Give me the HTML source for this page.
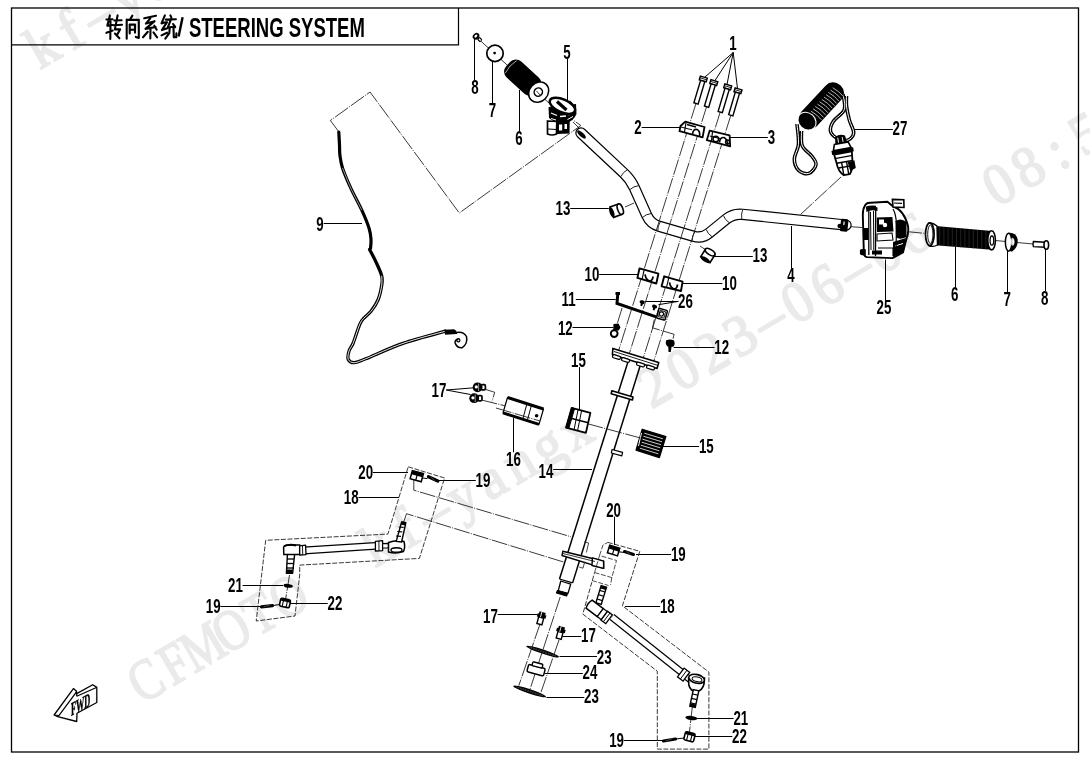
<!DOCTYPE html>
<html><head><meta charset="utf-8"><style>
html,body{margin:0;padding:0;background:#fff;}
svg{display:block;font-family:"Liberation Sans",sans-serif;filter:grayscale(1);}
</style></head><body>
<svg width="1090" height="760" viewBox="0 0 1090 760">
<rect width="1090" height="760" fill="#fff"/>
<g fill="#eaeaea" stroke="#eaeaea" stroke-width="1.9" font-family="Liberation Serif" font-size="58"><g transform="translate(169.2,688.3) rotate(-30.3)"><text transform="translate(-16.0,0) scale(0.8,1)" text-anchor="middle">C</text><text transform="translate(17.0,0) scale(0.8,1)" text-anchor="middle">F</text><text transform="translate(50.0,0) scale(0.8,1)" text-anchor="middle">M</text><text transform="translate(83.0,0) scale(0.8,1)" text-anchor="middle">O</text><text transform="translate(116.0,0) scale(0.8,1)" text-anchor="middle">T</text><text transform="translate(149.0,0) scale(0.8,1)" text-anchor="middle">O</text><text transform="translate(252.0,0) scale(0.95,1)" text-anchor="middle">k</text><text transform="translate(284.8,0) scale(0.95,1)" text-anchor="middle">f</text><text transform="translate(317.6,0) scale(0.52,1)" text-anchor="middle">—</text><text transform="translate(350.4,0) scale(0.95,1)" text-anchor="middle">y</text><text transform="translate(383.2,0) scale(0.95,1)" text-anchor="middle">a</text><text transform="translate(416.0,0) scale(0.95,1)" text-anchor="middle">n</text><text transform="translate(448.8,0) scale(0.95,1)" text-anchor="middle">g</text><text transform="translate(481.6,0) scale(0.95,1)" text-anchor="middle">x</text><text transform="translate(571.0,2.5) scale(0.95,1)" text-anchor="middle">2</text><text transform="translate(604.4,2.5) scale(0.95,1)" text-anchor="middle">0</text><text transform="translate(637.7,2.5) scale(0.95,1)" text-anchor="middle">2</text><text transform="translate(671.0,2.5) scale(0.95,1)" text-anchor="middle">3</text><text transform="translate(704.4,2.5) scale(0.52,1)" text-anchor="middle">—</text><text transform="translate(737.8,2.5) scale(0.95,1)" text-anchor="middle">0</text><text transform="translate(771.1,2.5) scale(0.95,1)" text-anchor="middle">6</text><text transform="translate(804.5,2.5) scale(0.52,1)" text-anchor="middle">—</text><text transform="translate(837.8,2.5) scale(0.95,1)" text-anchor="middle">0</text><text transform="translate(871.2,2.5) scale(0.95,1)" text-anchor="middle">6</text><text transform="translate(971.2,2.5) scale(0.95,1)" text-anchor="middle">0</text><text transform="translate(1004.5,2.5) scale(0.95,1)" text-anchor="middle">8</text><text transform="translate(1037.9,2.5) scale(0.95,1)" text-anchor="middle">:</text><text transform="translate(1071.2,2.5) scale(0.95,1)" text-anchor="middle">5</text><text transform="translate(1104.6,2.5) scale(0.95,1)" text-anchor="middle">5</text><text transform="translate(1138.0,2.5) scale(0.95,1)" text-anchor="middle">:</text><text transform="translate(1171.3,2.5) scale(0.95,1)" text-anchor="middle">2</text><text transform="translate(1204.7,2.5) scale(0.95,1)" text-anchor="middle">1</text></g><g transform="translate(-166,190) rotate(-30.3)"><text transform="translate(-16.0,0) scale(0.8,1)" text-anchor="middle">C</text><text transform="translate(17.0,0) scale(0.8,1)" text-anchor="middle">F</text><text transform="translate(50.0,0) scale(0.8,1)" text-anchor="middle">M</text><text transform="translate(83.0,0) scale(0.8,1)" text-anchor="middle">O</text><text transform="translate(116.0,0) scale(0.8,1)" text-anchor="middle">T</text><text transform="translate(149.0,0) scale(0.8,1)" text-anchor="middle">O</text><text transform="translate(252.0,0) scale(0.95,1)" text-anchor="middle">k</text><text transform="translate(284.8,0) scale(0.95,1)" text-anchor="middle">f</text><text transform="translate(317.6,0) scale(0.52,1)" text-anchor="middle">—</text><text transform="translate(350.4,0) scale(0.95,1)" text-anchor="middle">y</text><text transform="translate(383.2,0) scale(0.95,1)" text-anchor="middle">a</text><text transform="translate(416.0,0) scale(0.95,1)" text-anchor="middle">n</text><text transform="translate(448.8,0) scale(0.95,1)" text-anchor="middle">g</text><text transform="translate(481.6,0) scale(0.95,1)" text-anchor="middle">x</text><text transform="translate(571.0,2.5) scale(0.95,1)" text-anchor="middle">2</text><text transform="translate(604.4,2.5) scale(0.95,1)" text-anchor="middle">0</text><text transform="translate(637.7,2.5) scale(0.95,1)" text-anchor="middle">2</text><text transform="translate(671.0,2.5) scale(0.95,1)" text-anchor="middle">3</text><text transform="translate(704.4,2.5) scale(0.52,1)" text-anchor="middle">—</text><text transform="translate(737.8,2.5) scale(0.95,1)" text-anchor="middle">0</text><text transform="translate(771.1,2.5) scale(0.95,1)" text-anchor="middle">6</text><text transform="translate(804.5,2.5) scale(0.52,1)" text-anchor="middle">—</text><text transform="translate(837.8,2.5) scale(0.95,1)" text-anchor="middle">0</text><text transform="translate(871.2,2.5) scale(0.95,1)" text-anchor="middle">6</text><text transform="translate(971.2,2.5) scale(0.95,1)" text-anchor="middle">0</text><text transform="translate(1004.5,2.5) scale(0.95,1)" text-anchor="middle">8</text><text transform="translate(1037.9,2.5) scale(0.95,1)" text-anchor="middle">:</text><text transform="translate(1071.2,2.5) scale(0.95,1)" text-anchor="middle">5</text><text transform="translate(1104.6,2.5) scale(0.95,1)" text-anchor="middle">5</text><text transform="translate(1138.0,2.5) scale(0.95,1)" text-anchor="middle">:</text><text transform="translate(1171.3,2.5) scale(0.95,1)" text-anchor="middle">2</text><text transform="translate(1204.7,2.5) scale(0.95,1)" text-anchor="middle">1</text></g></g>
<rect x="11.5" y="8" width="1067" height="744" fill="none" stroke="#000" stroke-width="1.3"/>
<polyline points="11.5,44.8 458.5,44.8 458.5,8" fill="none" stroke="#000" stroke-width="1.2"/>
<text transform="translate(733.0,49.9) scale(0.69,1)" text-anchor="middle" font-size="19.3" font-weight="bold">1</text>
<text transform="translate(638.0,133.9) scale(0.69,1)" text-anchor="middle" font-size="19.3" font-weight="bold">2</text>
<text transform="translate(771.5,143.9) scale(0.69,1)" text-anchor="middle" font-size="19.3" font-weight="bold">3</text>
<text transform="translate(791.0,281.9) scale(0.69,1)" text-anchor="middle" font-size="19.3" font-weight="bold">4</text>
<text transform="translate(567.0,58.9) scale(0.69,1)" text-anchor="middle" font-size="19.3" font-weight="bold">5</text>
<text transform="translate(519.0,144.9) scale(0.69,1)" text-anchor="middle" font-size="19.3" font-weight="bold">6</text>
<text transform="translate(492.5,116.9) scale(0.69,1)" text-anchor="middle" font-size="19.3" font-weight="bold">7</text>
<text transform="translate(475.0,93.9) scale(0.69,1)" text-anchor="middle" font-size="19.3" font-weight="bold">8</text>
<text transform="translate(320.0,230.9) scale(0.69,1)" text-anchor="middle" font-size="19.3" font-weight="bold">9</text>
<text transform="translate(592.0,280.9) scale(0.69,1)" text-anchor="middle" font-size="19.3" font-weight="bold">10</text>
<text transform="translate(729.5,289.9) scale(0.69,1)" text-anchor="middle" font-size="19.3" font-weight="bold">10</text>
<text transform="translate(568.6,306.3) scale(0.69,1)" text-anchor="middle" font-size="19.3" font-weight="bold">11</text>
<text transform="translate(565.3,334.9) scale(0.69,1)" text-anchor="middle" font-size="19.3" font-weight="bold">12</text>
<text transform="translate(721.7,353.6) scale(0.69,1)" text-anchor="middle" font-size="19.3" font-weight="bold">12</text>
<text transform="translate(563.0,215.3) scale(0.69,1)" text-anchor="middle" font-size="19.3" font-weight="bold">13</text>
<text transform="translate(760.0,262.2) scale(0.69,1)" text-anchor="middle" font-size="19.3" font-weight="bold">13</text>
<text transform="translate(546.0,477.5) scale(0.69,1)" text-anchor="middle" font-size="19.3" font-weight="bold">14</text>
<text transform="translate(578.5,367.4) scale(0.69,1)" text-anchor="middle" font-size="19.3" font-weight="bold">15</text>
<text transform="translate(706.3,452.6) scale(0.69,1)" text-anchor="middle" font-size="19.3" font-weight="bold">15</text>
<text transform="translate(513.4,465.8) scale(0.69,1)" text-anchor="middle" font-size="19.3" font-weight="bold">16</text>
<text transform="translate(439.0,396.9) scale(0.69,1)" text-anchor="middle" font-size="19.3" font-weight="bold">17</text>
<text transform="translate(490.5,622.6) scale(0.69,1)" text-anchor="middle" font-size="19.3" font-weight="bold">17</text>
<text transform="translate(588.4,641.6) scale(0.69,1)" text-anchor="middle" font-size="19.3" font-weight="bold">17</text>
<text transform="translate(351.2,503.9) scale(0.69,1)" text-anchor="middle" font-size="19.3" font-weight="bold">18</text>
<text transform="translate(667.3,613.2) scale(0.69,1)" text-anchor="middle" font-size="19.3" font-weight="bold">18</text>
<text transform="translate(483.0,487.1) scale(0.69,1)" text-anchor="middle" font-size="19.3" font-weight="bold">19</text>
<text transform="translate(213.2,612.8) scale(0.69,1)" text-anchor="middle" font-size="19.3" font-weight="bold">19</text>
<text transform="translate(678.3,561.1) scale(0.69,1)" text-anchor="middle" font-size="19.3" font-weight="bold">19</text>
<text transform="translate(616.6,746.9) scale(0.69,1)" text-anchor="middle" font-size="19.3" font-weight="bold">19</text>
<text transform="translate(365.7,478.8) scale(0.69,1)" text-anchor="middle" font-size="19.3" font-weight="bold">20</text>
<text transform="translate(613.6,516.9) scale(0.69,1)" text-anchor="middle" font-size="19.3" font-weight="bold">20</text>
<text transform="translate(235.4,591.6) scale(0.69,1)" text-anchor="middle" font-size="19.3" font-weight="bold">21</text>
<text transform="translate(740.8,724.8) scale(0.69,1)" text-anchor="middle" font-size="19.3" font-weight="bold">21</text>
<text transform="translate(334.9,610.1) scale(0.69,1)" text-anchor="middle" font-size="19.3" font-weight="bold">22</text>
<text transform="translate(739.5,743.1) scale(0.69,1)" text-anchor="middle" font-size="19.3" font-weight="bold">22</text>
<text transform="translate(604.2,663.7) scale(0.69,1)" text-anchor="middle" font-size="19.3" font-weight="bold">23</text>
<text transform="translate(591.5,703.1) scale(0.69,1)" text-anchor="middle" font-size="19.3" font-weight="bold">23</text>
<text transform="translate(590.0,679.4) scale(0.69,1)" text-anchor="middle" font-size="19.3" font-weight="bold">24</text>
<text transform="translate(884.0,313.9) scale(0.69,1)" text-anchor="middle" font-size="19.3" font-weight="bold">25</text>
<text transform="translate(685.5,307.7) scale(0.69,1)" text-anchor="middle" font-size="19.3" font-weight="bold">26</text>
<text transform="translate(900.0,135.2) scale(0.69,1)" text-anchor="middle" font-size="19.3" font-weight="bold">27</text>
<text transform="translate(954.7,301.2) scale(0.69,1)" text-anchor="middle" font-size="19.3" font-weight="bold">6</text>
<text transform="translate(1007.3,306.3) scale(0.69,1)" text-anchor="middle" font-size="19.3" font-weight="bold">7</text>
<text transform="translate(1044.6,304.9) scale(0.69,1)" text-anchor="middle" font-size="19.3" font-weight="bold">8</text>
<line x1="733.2" y1="52.5" x2="705.0" y2="77.0" stroke="#000" stroke-width="1.0" />
<line x1="733.2" y1="52.5" x2="715.0" y2="80.5" stroke="#000" stroke-width="1.0" />
<line x1="733.2" y1="52.5" x2="727.0" y2="84.5" stroke="#000" stroke-width="1.0" />
<line x1="733.2" y1="52.5" x2="737.5" y2="88.5" stroke="#000" stroke-width="1.0" />
<line x1="641.7" y1="127.5" x2="682.0" y2="127.5" stroke="#000" stroke-width="1.0" />
<line x1="767.8" y1="137.5" x2="725.0" y2="137.5" stroke="#000" stroke-width="1.0" />
<line x1="791.5" y1="226.0" x2="791.5" y2="268.4" stroke="#000" stroke-width="1.0" />
<line x1="567.5" y1="58.6" x2="567.5" y2="101.0" stroke="#000" stroke-width="1.0" />
<line x1="519.5" y1="90.0" x2="519.5" y2="131.4" stroke="#000" stroke-width="1.0" />
<line x1="492.5" y1="61.0" x2="492.5" y2="103.4" stroke="#000" stroke-width="1.0" />
<line x1="474.5" y1="38.0" x2="474.5" y2="80.4" stroke="#000" stroke-width="1.0" />
<line x1="323.7" y1="223.5" x2="362.0" y2="223.5" stroke="#000" stroke-width="1.0" />
<line x1="599.2" y1="274.5" x2="638.0" y2="274.5" stroke="#000" stroke-width="1.0" />
<line x1="682.6" y1="283.5" x2="722.3" y2="283.5" stroke="#000" stroke-width="1.0" />
<line x1="575.8" y1="299.5" x2="615.7" y2="299.5" stroke="#000" stroke-width="1.0" />
<line x1="572.5" y1="327.5" x2="613.4" y2="327.5" stroke="#000" stroke-width="1.0" />
<line x1="673.7" y1="347.5" x2="714.5" y2="347.5" stroke="#000" stroke-width="1.0" />
<line x1="570.2" y1="208.5" x2="608.8" y2="208.5" stroke="#000" stroke-width="1.0" />
<line x1="714.0" y1="256.5" x2="752.8" y2="256.5" stroke="#000" stroke-width="1.0" />
<line x1="553.2" y1="469.5" x2="592.0" y2="469.5" stroke="#000" stroke-width="1.0" />
<line x1="579.5" y1="367.1" x2="579.5" y2="409.0" stroke="#000" stroke-width="1.0" />
<line x1="661.0" y1="446.5" x2="699.1" y2="446.5" stroke="#000" stroke-width="1.0" />
<line x1="513.5" y1="418.0" x2="513.5" y2="452.3" stroke="#000" stroke-width="1.0" />
<line x1="446.2" y1="390.0" x2="474.0" y2="387.8" stroke="#000" stroke-width="1.0" />
<line x1="446.2" y1="390.0" x2="470.5" y2="394.5" stroke="#000" stroke-width="1.0" />
<line x1="497.7" y1="614.5" x2="537.4" y2="614.5" stroke="#000" stroke-width="1.0" />
<line x1="562.3" y1="636.5" x2="581.2" y2="636.5" stroke="#000" stroke-width="1.0" />
<line x1="358.4" y1="497.5" x2="399.0" y2="497.5" stroke="#000" stroke-width="1.0" />
<line x1="625.0" y1="606.5" x2="660.1" y2="606.5" stroke="#000" stroke-width="1.0" />
<line x1="438.5" y1="480.5" x2="475.8" y2="480.5" stroke="#000" stroke-width="1.0" />
<line x1="220.4" y1="606.5" x2="262.0" y2="606.5" stroke="#000" stroke-width="1.0" />
<line x1="636.0" y1="554.5" x2="671.1" y2="554.5" stroke="#000" stroke-width="1.0" />
<line x1="623.8" y1="740.5" x2="666.0" y2="740.5" stroke="#000" stroke-width="1.0" />
<line x1="372.9" y1="472.5" x2="408.0" y2="472.5" stroke="#000" stroke-width="1.0" />
<line x1="614.5" y1="516.6" x2="614.5" y2="545.0" stroke="#000" stroke-width="1.0" />
<line x1="242.6" y1="585.5" x2="283.0" y2="585.5" stroke="#000" stroke-width="1.0" />
<line x1="697.0" y1="718.5" x2="733.6" y2="718.5" stroke="#000" stroke-width="1.0" />
<line x1="290.0" y1="603.5" x2="327.7" y2="603.5" stroke="#000" stroke-width="1.0" />
<line x1="695.0" y1="736.5" x2="732.3" y2="736.5" stroke="#000" stroke-width="1.0" />
<line x1="559.5" y1="656.5" x2="597.0" y2="656.5" stroke="#000" stroke-width="1.0" />
<line x1="546.4" y1="697.5" x2="584.3" y2="697.5" stroke="#000" stroke-width="1.0" />
<line x1="545.0" y1="673.5" x2="582.8" y2="673.5" stroke="#000" stroke-width="1.0" />
<line x1="885.5" y1="259.5" x2="885.5" y2="300.4" stroke="#000" stroke-width="1.0" />
<line x1="678.3" y1="301.5" x2="644.7" y2="301.5" stroke="#000" stroke-width="1.0" />
<line x1="678.3" y1="301.4" x2="658.4" y2="304.7" stroke="#000" stroke-width="1.0" />
<line x1="854.0" y1="129.5" x2="892.8" y2="129.5" stroke="#000" stroke-width="1.0" />
<line x1="955.5" y1="247.0" x2="955.5" y2="287.7" stroke="#000" stroke-width="1.0" />
<line x1="1007.5" y1="251.0" x2="1007.5" y2="292.8" stroke="#000" stroke-width="1.0" />
<line x1="1045.5" y1="248.0" x2="1045.5" y2="291.4" stroke="#000" stroke-width="1.0" />
<polyline points="338.7,131.6 330.4,120.5 370.0,92.0 459.3,213.0 580.8,125.5 571.6,119.0" stroke="#222" stroke-width="0.9" fill="none" stroke-dasharray="16 1.3 1 1.3"/>
<polyline points="478.0,38.5 490.0,49.5" stroke="#222" stroke-width="0.9" fill="none" stroke-dasharray="16 1.3 1 1.3"/>
<polyline points="500.0,58.5 512.0,69.5" stroke="#222" stroke-width="0.9" fill="none" stroke-dasharray="16 1.3 1 1.3"/>
<polyline points="541.0,96.0 549.0,103.0" stroke="#222" stroke-width="0.9" fill="none" stroke-dasharray="16 1.3 1 1.3"/>
<polyline points="573.0,122.0 582.0,131.0" stroke="#222" stroke-width="0.9" fill="none" stroke-dasharray="16 1.3 1 1.3"/>
<polyline points="848.0,226.5 862.0,227.5" stroke="#222" stroke-width="0.9" fill="none" stroke-dasharray="16 1.3 1 1.3"/>
<polyline points="906.0,231.5 926.0,233.5" stroke="#222" stroke-width="0.9" fill="none" stroke-dasharray="16 1.3 1 1.3"/>
<polyline points="995.0,240.5 1006.0,241.5" stroke="#222" stroke-width="0.9" fill="none" stroke-dasharray="16 1.3 1 1.3"/>
<polyline points="1017.0,242.5 1033.0,244.0" stroke="#222" stroke-width="0.9" fill="none" stroke-dasharray="16 1.3 1 1.3"/>
<polyline points="800.6,214.4 841.0,177.0" stroke="#222" stroke-width="0.9" fill="none" stroke-dasharray="16 1.3 1 1.3"/>
<polyline points="700.0,246.0 706.0,250.0" stroke="#222" stroke-width="0.9" fill="none" stroke-dasharray="16 1.3 1 1.3"/>
<polyline points="625.0,207.0 634.0,203.0" stroke="#222" stroke-width="0.9" fill="none" stroke-dasharray="16 1.3 1 1.3"/>
<path d="M581.0,133.0 L624.0,173.3 Q630.6,179.4 634.3,187.6 L646.8,215.5 Q650.5,223.7 659.1,226.2 L693.5,236.3 Q702.1,238.8 709.1,233.1 L726.3,219.1 Q733.3,213.4 742.3,214.3 L846.0,225.1" stroke="#000" stroke-width="11.4" fill="none" stroke-linecap="round" stroke-linejoin="round"/>
<path d="M581.0,133.0 L624.0,173.3 Q630.6,179.4 634.3,187.6 L646.8,215.5 Q650.5,223.7 659.1,226.2 L693.5,236.3 Q702.1,238.8 709.1,233.1 L726.3,219.1 Q733.3,213.4 742.3,214.3 L846.0,225.1" stroke="#fff" stroke-width="9.0" fill="none" stroke-linecap="round" stroke-linejoin="round"/>
<ellipse cx="581.5" cy="134.5" rx="2.2" ry="5.6" transform="rotate(-47 581.5 134.5)" fill="#000"/>
<rect x="840.5" y="219" width="7.5" height="12.6" rx="1.5" fill="#000" transform="rotate(6 844 225)"/>
<ellipse cx="840" cy="226" rx="2.6" ry="2.2" fill="#000"/>
<rect x="843.2" y="221.5" width="1.2" height="3.5" fill="#fff" transform="rotate(6 844 225)"/>
<path d="M0,-4.6 Q-1.6,0 0,4.6" transform="translate(624.1,173.2) rotate(43.4)" fill="none" stroke="#000" stroke-width="0.8"/>
<path d="M0,-4.6 Q-1.6,0 0,4.6" transform="translate(634.3,187.6) rotate(65.9)" fill="none" stroke="#000" stroke-width="0.8"/>
<path d="M0,-4.6 Q-1.6,0 0,4.6" transform="translate(646.8,215.5) rotate(65.9)" fill="none" stroke="#000" stroke-width="0.8"/>
<path d="M0,-4.6 Q-1.6,0 0,4.6" transform="translate(659.1,226.2) rotate(16.3)" fill="none" stroke="#000" stroke-width="0.8"/>
<path d="M0,-4.6 Q-1.6,0 0,4.6" transform="translate(693.5,236.3) rotate(16.3)" fill="none" stroke="#000" stroke-width="0.8"/>
<path d="M0,-4.6 Q-1.6,0 0,4.6" transform="translate(709.1,233.1) rotate(-39.2)" fill="none" stroke="#000" stroke-width="0.8"/>
<path d="M0,-4.6 Q-1.6,0 0,4.6" transform="translate(726.3,219.1) rotate(-39.2)" fill="none" stroke="#000" stroke-width="0.8"/>
<path d="M0,-4.6 Q-1.6,0 0,4.6" transform="translate(742.3,214.3) rotate(6)" fill="none" stroke="#000" stroke-width="0.8"/>
<polyline points="696.0,103.4 618.2,352.0" stroke="#222" stroke-width="0.9" fill="none" stroke-dasharray="16 1.3 1 1.3"/>
<polyline points="706.6,106.6 628.8,355.3" stroke="#222" stroke-width="0.9" fill="none" stroke-dasharray="16 1.3 1 1.3"/>
<polyline points="720.2,112.1 642.8,359.5" stroke="#222" stroke-width="0.9" fill="none" stroke-dasharray="16 1.3 1 1.3"/>
<polyline points="730.8,115.3 653.3,362.8" stroke="#222" stroke-width="0.9" fill="none" stroke-dasharray="16 1.3 1 1.3"/>
<line x1="628.7" y1="359.5" x2="559.5" y2="579.0" stroke="#000" stroke-width="1.5" />
<line x1="640.3" y1="365.3" x2="572.6" y2="582.9" stroke="#000" stroke-width="1.5" />
<line x1="559.5" y1="579.0" x2="572.6" y2="582.9" stroke="#000" stroke-width="1.3" />
<polygon points="560.8,581.0 570.7,584.2 568.0,593.4 558.2,590.8" stroke="#000" stroke-width="1.3" fill="#fff" stroke-linejoin="round" />
<polygon points="557.5,590.6 567.5,593.6 566.5,596.0 556.5,593.0" stroke="#000" stroke-width="1.3" fill="#000" stroke-linejoin="round" />
<polygon points="612.9,348.4 658.7,362.6 657.1,368.4 612.4,354.7" stroke="#000" stroke-width="1.6" fill="#fff" stroke-linejoin="round" />
<line x1="614.0" y1="351.5" x2="657.5" y2="365.3" stroke="#000" stroke-width="0.9" />
<rect x="613" y="355.5" width="8" height="3.2" rx="1.2" fill="#fff" stroke="#000" stroke-width="1.2" transform="rotate(17 617 355.5)"/>
<rect x="622" y="358.5" width="8" height="3.2" rx="1.2" fill="#fff" stroke="#000" stroke-width="1.2" transform="rotate(17 626 358.5)"/>
<rect x="637" y="363" width="8" height="3.2" rx="1.2" fill="#fff" stroke="#000" stroke-width="1.2" transform="rotate(17 641 363)"/>
<rect x="647" y="366" width="8" height="3.2" rx="1.2" fill="#fff" stroke="#000" stroke-width="1.2" transform="rotate(17 651 366)"/>
<polygon points="611.8,390.8 633.0,397.0 632.4,400.0 611.2,393.8" stroke="#000" stroke-width="1.6" fill="#fff" stroke-linejoin="round" />
<polygon points="612.0,449.5 622.6,452.4 621.8,455.8 611.4,453.0" stroke="#000" stroke-width="1.2" fill="#fff" stroke-linejoin="round" />
<rect x="604" y="446.5" width="4" height="3.5" fill="#fff" transform="rotate(-17 606 448)"/>
<polygon points="562.8,551.3 603.6,561.2 603.6,568.4 562.0,555.5" stroke="#000" stroke-width="1.4" fill="#fff" stroke-linejoin="round" />
<polygon points="592.4,557.9 603.6,561.2 603.6,568.4 592.0,565.5" stroke="#000" stroke-width="1.4" fill="#fff" stroke-linejoin="round" />
<line x1="563.0" y1="553.5" x2="595.0" y2="561.5" stroke="#000" stroke-width="0.8" />
<polyline points="584.0,541.8 588.6,543.0 586.4,552.5" stroke="#333" stroke-width="0.9" fill="none" />
<polyline points="579.2,567.0 583.0,568.2 584.8,561.5" stroke="#333" stroke-width="0.9" fill="none" />
<polyline points="408.2,466.8 444.6,478.0 419.4,558.4 299.7,565.1 299.7,575.0 295.0,616.0 256.2,621.0 265.7,540.3 387.9,534.1 408.2,466.8" stroke="#222" stroke-width="0.9" fill="none" stroke-dasharray="5 1.6"/>
<polyline points="413.8,477.0 413.8,490.2 571.0,536.8" stroke="#222" stroke-width="0.9" fill="none" stroke-dasharray="16 1.3 1 1.3"/>
<polyline points="403.7,522.0 406.5,513.7 563.5,562.0" stroke="#222" stroke-width="0.9" fill="none" stroke-dasharray="16 1.3 1 1.3"/>
<line x1="303.9" y1="550.5" x2="375.4" y2="545.9" stroke="#000" stroke-width="7.8" />
<line x1="303.9" y1="550.5" x2="375.4" y2="545.9" stroke="#fff" stroke-width="5.4" />
<path d="M283.6,547.5 Q284,545.2 288,545 L299.7,545 L299.7,554.5 L283.8,554.5 Z" fill="#fff" stroke="#000" stroke-width="1.5"/>
<path d="M284,546.2 Q290,543.5 296,545.5" fill="none" stroke="#000" stroke-width="2"/>
<polygon points="299.7,545.8 305.6,545.2 306.0,554.6 299.7,555.0" stroke="#000" stroke-width="1.3" fill="#fff" stroke-linejoin="round" />
<line x1="302.5" y1="545.5" x2="302.7" y2="554.8" stroke="#000" stroke-width="0.9" />
<polygon points="287.4,554.6 294.6,554.6 292.6,573.4 286.4,573.4" stroke="#000" stroke-width="1.4" fill="#fff" stroke-linejoin="round" />
<line x1="287.0" y1="559.0" x2="294.0" y2="559.0" stroke="#000" stroke-width="1.3" />
<line x1="287.0" y1="563.5" x2="294.0" y2="563.5" stroke="#000" stroke-width="1.3" />
<line x1="287.0" y1="568.0" x2="294.0" y2="568.0" stroke="#000" stroke-width="1.3" />
<rect x="286.3" y="569.5" width="6.2" height="4" fill="#000"/>
<polygon points="375.4,541.3 382.6,540.6 382.6,550.6 375.4,551.0" stroke="#000" stroke-width="1.3" fill="#fff" stroke-linejoin="round" />
<line x1="378.9" y1="541.0" x2="379.0" y2="550.8" stroke="#000" stroke-width="0.9" />
<polygon points="382.6,543.6 388.5,543.4 388.5,547.8 382.6,548.0" stroke="#000" stroke-width="1.2" fill="#fff" stroke-linejoin="round" />
<path d="M388.5,542.5 Q396,539.5 404,541.5 Q405.5,547 403.5,551.5 Q396,554 388.5,552 Z" fill="#fff" stroke="#000" stroke-width="1.5"/>
<ellipse cx="396.5" cy="550" rx="5.5" ry="2.2" fill="none" stroke="#000" stroke-width="1.4"/>
<polygon points="401.6,522.2 405.8,522.8 401.6,542.0 396.2,541.4" stroke="#000" stroke-width="1.4" fill="#fff" stroke-linejoin="round" />
<line x1="398.7" y1="527.0" x2="403.7" y2="527.4" stroke="#000" stroke-width="1.2" />
<line x1="397.3" y1="531.5" x2="402.3" y2="531.9" stroke="#000" stroke-width="1.2" />
<line x1="396.0" y1="536.0" x2="401.0" y2="536.4" stroke="#000" stroke-width="1.2" />
<rect x="401" y="521.5" width="5" height="3.5" fill="#000" transform="rotate(12 403 523)"/>
<polyline points="607.9,542.4 639.8,551.3 622.4,605.8 708.9,672.1 708.9,749.1 657.3,749.1 657.3,671.2 582.8,614.1 594.6,572.5" stroke="#222" stroke-width="0.9" fill="none" stroke-dasharray="5 1.6"/>
<polyline points="594.6,572.5 611.8,577.6 616.5,560.5 599.5,555.5 594.6,572.5" stroke="#222" stroke-width="0.8" fill="none" stroke-dasharray="5 1.6"/>
<polyline points="599.5,555.5 603.0,545.0 607.9,542.4" stroke="#222" stroke-width="0.8" fill="none" stroke-dasharray="5 1.6"/>
<polyline points="611.8,577.6 610.6,585.0" stroke="#222" stroke-width="0.8" fill="none" stroke-dasharray="5 1.6"/>
<polyline points="592.0,580.5 608.5,585.5" stroke="#222" stroke-width="0.8" fill="none" stroke-dasharray="5 1.6"/>
<polyline points="692.3,707.1 689.0,736.0" stroke="#222" stroke-width="0.9" fill="none" stroke-dasharray="16 1.3 1 1.3"/>
<line x1="612.0" y1="617.0" x2="681.8" y2="672.5" stroke="#000" stroke-width="7.4" />
<line x1="612.0" y1="617.0" x2="681.8" y2="672.5" stroke="#fff" stroke-width="5.0" />
<g transform="translate(601.2,595) rotate(17)"><rect x="-2.8" y="-9" width="5.6" height="18" fill="#fff" stroke="#000" stroke-width="1.4"/><line x1="-2.8" y1="-4" x2="2.8" y2="-4" stroke="#000" stroke-width="1.2"/><line x1="-2.8" y1="0.5" x2="2.8" y2="0.5" stroke="#000" stroke-width="1.2"/><line x1="-2.8" y1="5" x2="2.8" y2="5" stroke="#000" stroke-width="1.2"/><rect x="-2.8" y="-9" width="5.6" height="3" fill="#000"/></g>
<g transform="translate(595.5,609) rotate(37)"><path d="M-8,-5 L6,-5 L6,5 L-8,5 Q-10,0 -8,-5 Z" fill="#fff" stroke="#000" stroke-width="1.5"/><rect x="6" y="-5" width="5" height="10" fill="#fff" stroke="#000" stroke-width="1.2"/><rect x="11" y="-5.5" width="6" height="11" fill="#fff" stroke="#000" stroke-width="1.3"/><line x1="14" y1="-5.5" x2="14" y2="5.5" stroke="#000" stroke-width="0.9"/></g>
<g transform="translate(684,675) rotate(37)"><rect x="-4" y="-5.5" width="7" height="11" fill="#fff" stroke="#000" stroke-width="1.3"/><line x1="-0.5" y1="-5.5" x2="-0.5" y2="5.5" stroke="#000" stroke-width="0.9"/><rect x="3" y="-3" width="4" height="6" fill="#fff" stroke="#000" stroke-width="1.1"/></g>
<path d="M688.6,678 L688.8,685 Q690.5,691.5 696.5,691.8 Q702.5,690.5 704,684 L704.5,678 Z" fill="#fff" stroke="#000" stroke-width="1.6"/>
<ellipse cx="696.6" cy="678.8" rx="8" ry="4.3" transform="rotate(14 696.6 678.8)" fill="#fff" stroke="#000" stroke-width="1.6"/>
<ellipse cx="697" cy="679.3" rx="5" ry="2.3" transform="rotate(14 697 679.3)" fill="none" stroke="#000" stroke-width="1"/>
<g transform="translate(694.3,698.5) rotate(12)"><rect x="-2.8" y="-8.5" width="5.6" height="17" fill="#fff" stroke="#000" stroke-width="1.4"/><line x1="-2.8" y1="-4" x2="2.8" y2="-4" stroke="#000" stroke-width="1.2"/><line x1="-2.8" y1="0.5" x2="2.8" y2="0.5" stroke="#000" stroke-width="1.2"/><line x1="-2.8" y1="5" x2="2.8" y2="5" stroke="#000" stroke-width="1.2"/><rect x="-2.8" y="5.5" width="5.6" height="3" fill="#000"/></g>
<g transform="translate(416.8,476.2) rotate(15)"><rect x="-5.75" y="-4.25" width="11.5" height="8.5" fill="#fff" stroke="#000" stroke-width="1.5"/><rect x="-5.75" y="-4.25" width="11.5" height="3.825" fill="#000"/><line x1="0" y1="-4.25" x2="0" y2="4.25" stroke="#000" stroke-width="1.2"/></g>
<line x1="428.5" y1="476.8" x2="437.8" y2="481.0" stroke="#000" stroke-width="3.4" stroke-linecap="round"/>
<line x1="430.5" y1="477.0" x2="434.8" y2="480.6" stroke="#888" stroke-width="0.5" />
<line x1="422.5" y1="478.0" x2="427.5" y2="478.6" stroke="#000" stroke-width="1" />
<polyline points="289.5,575.0 285.5,600.0" stroke="#222" stroke-width="0.9" fill="none" stroke-dasharray="16 1.3 1 1.3"/>
<ellipse cx="288.2" cy="585.8" rx="4.8" ry="1.9" transform="rotate(8 288.2 585.8)" fill="#000"/>
<g transform="translate(285,603) rotate(12)"><rect x="-5.0" y="-4.0" width="10" height="8" rx="1.5" fill="#fff" stroke="#000" stroke-width="1.6"/><rect x="-5.0" y="-4.0" width="10" height="2.6" fill="#000"/><line x1="-2.0" y1="-4.0" x2="-2.0" y2="4.0" stroke="#000" stroke-width="1.1"/><line x1="2.0" y1="-4.0" x2="2.0" y2="4.0" stroke="#000" stroke-width="1.1"/></g>
<line x1="261.5" y1="606.8" x2="272.5" y2="605.6" stroke="#000" stroke-width="3.2" stroke-linecap="round"/>
<line x1="263.5" y1="607.0" x2="269.5" y2="605.2" stroke="#888" stroke-width="0.5" />
<line x1="272.5" y1="605.6" x2="280.0" y2="604.5" stroke="#000" stroke-width="1" />
<g transform="translate(613.6,550.5) rotate(17)"><rect x="-5.25" y="-4.0" width="10.5" height="8" fill="#fff" stroke="#000" stroke-width="1.5"/><rect x="-5.25" y="-4.0" width="10.5" height="3.6" fill="#000"/><line x1="0" y1="-4.0" x2="0" y2="4.0" stroke="#000" stroke-width="1.2"/></g>
<line x1="624.5" y1="551.5" x2="633.5" y2="554.5" stroke="#000" stroke-width="3.0" stroke-linecap="round"/>
<line x1="626.5" y1="551.7" x2="630.5" y2="554.1" stroke="#888" stroke-width="0.5" />
<line x1="618.8" y1="551.8" x2="624.5" y2="552.5" stroke="#000" stroke-width="1" />
<ellipse cx="691.3" cy="718" rx="6" ry="2.1" transform="rotate(8 691.3 718)" fill="#000"/>
<g transform="translate(689.5,736.8) rotate(14)"><rect x="-5.0" y="-4.25" width="10" height="8.5" rx="1.5" fill="#fff" stroke="#000" stroke-width="1.6"/><rect x="-5.0" y="-4.25" width="10" height="2.6" fill="#000"/><line x1="-2.0" y1="-4.25" x2="-2.0" y2="4.25" stroke="#000" stroke-width="1.1"/><line x1="2.0" y1="-4.25" x2="2.0" y2="4.25" stroke="#000" stroke-width="1.1"/></g>
<line x1="663.5" y1="741.0" x2="675.5" y2="739.0" stroke="#000" stroke-width="3.2" stroke-linecap="round"/>
<line x1="665.5" y1="741.2" x2="672.5" y2="738.6" stroke="#888" stroke-width="0.5" />
<line x1="675.5" y1="739.0" x2="684.5" y2="738.0" stroke="#000" stroke-width="1" />
<polyline points="540.0,624.0 518.8,685.6" stroke="#222" stroke-width="0.9" fill="none" stroke-dasharray="16 1.3 1 1.3"/>
<polyline points="560.2,597.0 529.9,689.7" stroke="#222" stroke-width="0.9" fill="none" stroke-dasharray="16 1.3 1 1.3"/>
<polyline points="559.0,640.0 540.9,692.5" stroke="#222" stroke-width="0.9" fill="none" stroke-dasharray="16 1.3 1 1.3"/>
<g transform="translate(541.2,617.5) rotate(15)"><rect x="-2.6" y="0" width="5.2" height="7" fill="#fff" stroke="#000" stroke-width="1.4"/><rect x="-4.5" y="-3.2" width="9" height="3.4" fill="#000"/><rect x="-3.2" y="-5.6" width="6.4" height="3" fill="#000"/><line x1="-0.8" y1="-5.5" x2="-0.8" y2="0" stroke="#fff" stroke-width="0.8"/></g>
<g transform="translate(560.5,632) rotate(15)"><rect x="-2.6" y="0" width="5.2" height="7" fill="#fff" stroke="#000" stroke-width="1.4"/><rect x="-4.5" y="-3.2" width="9" height="3.4" fill="#000"/><rect x="-3.2" y="-5.6" width="6.4" height="3" fill="#000"/><line x1="-0.8" y1="-5.5" x2="-0.8" y2="0" stroke="#fff" stroke-width="0.8"/></g>
<ellipse cx="542.6" cy="651.6" rx="17.3" ry="2.1" transform="rotate(18.5 542.6 651.6)" fill="#000"/>
<ellipse cx="542.6" cy="651.6" rx="14" ry="0.5" transform="rotate(18.5 542.6 651.6)" fill="none" stroke="#777" stroke-width="0.5" stroke-dasharray="1.5 1"/>
<ellipse cx="529.6" cy="691.4" rx="17.3" ry="2.2" transform="rotate(18.5 529.6 691.4)" fill="#000"/>
<ellipse cx="529.6" cy="691.4" rx="14" ry="0.5" transform="rotate(18.5 529.6 691.4)" fill="none" stroke="#777" stroke-width="0.5" stroke-dasharray="1.5 1"/>
<g transform="translate(536.4,669) rotate(15)"><rect x="-8.6" y="-2.6" width="17.2" height="7.6" rx="1.5" fill="#fff" stroke="#000" stroke-width="1.5"/><rect x="-5.2" y="-6.2" width="10.4" height="4" rx="1.2" fill="#fff" stroke="#000" stroke-width="1.4"/></g>
<path d="M338.8,132.0 C338.9,134.2 339.3,141.2 339.5,145.0 C339.7,148.8 339.4,151.2 339.9,155.0 C340.4,158.8 340.7,162.4 342.5,167.9 C344.3,173.4 347.6,181.1 350.8,188.1 C354.0,195.1 358.7,203.4 361.8,210.2 C364.9,217.0 367.7,223.8 369.2,228.7 C370.7,233.6 370.8,236.4 371.0,239.7 C371.2,243.0 370.6,247.0 370.5,248.5" stroke="#000" stroke-width="3.2" fill="none" stroke-linecap="round"/>
<path d="M369.6,249.5 C370.6,251.5 373.8,257.2 375.8,261.6 C377.8,266.0 380.7,271.9 381.7,275.8 C382.7,279.8 382.3,281.4 381.7,285.3 C381.1,289.2 380.0,295.2 378.2,299.5 C376.4,303.8 373.8,307.8 371.0,311.3 C368.2,314.9 364.0,317.2 361.6,320.8 C359.2,324.4 358.2,328.8 356.8,332.6 C355.4,336.4 354.3,340.4 353.0,343.5 C351.7,346.6 349.8,348.4 349.0,351.1 C348.2,353.8 347.4,357.6 348.3,359.5 C349.2,361.4 351.2,362.8 354.1,362.7 C357.0,362.6 357.6,362.0 365.7,358.8 C373.8,355.6 389.6,348.0 402.9,343.4 C416.2,338.8 438.2,333.2 445.3,331.2" stroke="#000" stroke-width="3.3" fill="none" stroke-linecap="round"/>
<path d="M381.7,275.8 C381.7,277.4 382.3,281.4 381.7,285.3 C381.1,289.2 380.0,295.2 378.2,299.5 C376.4,303.8 373.8,307.8 371.0,311.3 C368.2,314.9 364.0,317.2 361.6,320.8 C359.2,324.4 358.2,328.8 356.8,332.6 C355.4,336.4 354.3,340.4 353.0,343.5 C351.7,346.6 349.8,348.4 349.0,351.1 C348.2,353.8 347.4,357.6 348.3,359.5 C349.2,361.4 351.2,362.8 354.1,362.7 C357.0,362.6 357.6,362.0 365.7,358.8 C373.8,355.6 389.6,348.0 402.9,343.4 C416.2,338.8 438.2,333.2 445.3,331.2" stroke="#fff" stroke-width="0.9" fill="none" />
<path d="M342.5,167.9 C343.9,171.3 347.6,181.1 350.8,188.1 C354.0,195.1 360.0,206.5 361.8,210.2" stroke="#fff" stroke-width="0.6" fill="none" />
<path d="M444.5,329.8 L454,329.3 Q457.5,331.5 457,334 L445,334.8 Z" fill="#000"/>
<path d="M456.5,332.5 Q463.5,331 466.5,336.5 Q468,344 462,347.8 Q456.5,348 455,342.5 Q455,339 458.5,339.5" stroke="#000" stroke-width="1.5" fill="none" />
<circle cx="458.3" cy="340.2" r="1.6" fill="none" stroke="#000" stroke-width="1.2"/>
<g transform="translate(477.5,37.5) rotate(42)"><rect x="0.5" y="-1.9" width="4.8" height="3.8" rx="1.6" fill="#000"/><ellipse cx="-2" cy="0" rx="3" ry="3.6" fill="#000"/><ellipse cx="-2.2" cy="0" rx="1.2" ry="1.8" fill="#fff"/><rect x="2" y="-0.7" width="2.4" height="1.4" fill="#fff"/></g>
<circle cx="495" cy="53.4" r="8.2" fill="#fff" stroke="#000" stroke-width="1.7"/>
<circle cx="494.6" cy="53.1" r="1.4" fill="#000"/>
<g transform="translate(526.5,81) rotate(42.5)"><rect x="-25" y="-10.8" width="40" height="21.6" rx="8" fill="#000"/><path d="M-21,-8.5 Q-23.5,0 -21,8.5" fill="none" stroke="#fff" stroke-width="0.6"/><ellipse cx="16.5" cy="0" rx="10" ry="11.6" fill="#000"/><ellipse cx="16.5" cy="0" rx="8.5" ry="10.1" fill="#fff"/><ellipse cx="16.2" cy="0.2" rx="4.8" ry="5.0" fill="#000"/><ellipse cx="16.2" cy="0.2" rx="3.3" ry="3.5" fill="#fff"/></g>
<polyline points="536.5,91.0 541.0,96.0" stroke="#222" stroke-width="0.9" fill="none" stroke-dasharray="16 1.3 1 1.3"/>
<path d="M548.5,107 L549,118 Q556,124 565,123.5 Q573.5,121.5 576.5,114 L576,104 Z" fill="#000"/>
<path d="M547.5,121 L556.8,121.5 L556.5,134 Q552,136 547.5,134 Z" fill="#fff" stroke="#000" stroke-width="1.7"/>
<line x1="548.0" y1="129.0" x2="556.5" y2="129.5" stroke="#000" stroke-width="1.0" />
<path d="M556.8,118 L569.8,117 L569.5,133.5 L557,134 Z" fill="#000"/>
<rect x="559" y="124.5" width="3.2" height="6" fill="#fff"/><rect x="564.5" y="124" width="2.5" height="5" fill="#fff"/>
<path d="M551,113 L557,115.5 M560,116.5 L566,116 M568.5,115 L574,111" stroke="#fff" stroke-width="1.3" fill="none"/>
<path d="M551,118.5 L556,120 M567.5,119.5 L573,116.5" stroke="#fff" stroke-width="1" fill="none"/>
<ellipse cx="562.4" cy="105.8" rx="13.6" ry="6.4" transform="rotate(24 562.4 105.8)" fill="#fff" stroke="#000" stroke-width="2.4"/>
<path d="M557,101.5 L566.5,110" stroke="#000" stroke-width="3.2"/>
<path d="M569.5,101 L573,104.5" stroke="#000" stroke-width="1.4"/>
<g transform="translate(704,76.6) rotate(16.6)"><rect x="-3.6" y="0.5" width="7.2" height="4" fill="#fff" stroke="#000" stroke-width="1.4"/><rect x="-2.2" y="4.5" width="4.4" height="23.5" fill="#fff" stroke="#000" stroke-width="1.4"/><line x1="-3.6" y1="2.3" x2="3.6" y2="2.3" stroke="#000" stroke-width="0.8"/></g>
<g transform="translate(714.5,80.2) rotate(16.7)"><rect x="-3.6" y="0.5" width="7.2" height="4" fill="#fff" stroke="#000" stroke-width="1.4"/><rect x="-2.2" y="4.5" width="4.4" height="23.1" fill="#fff" stroke="#000" stroke-width="1.4"/><line x1="-3.6" y1="2.3" x2="3.6" y2="2.3" stroke="#000" stroke-width="0.8"/></g>
<g transform="translate(728.4,84.5) rotate(16.5)"><rect x="-3.6" y="0.5" width="7.2" height="4" fill="#fff" stroke="#000" stroke-width="1.4"/><rect x="-2.2" y="4.5" width="4.4" height="24.3" fill="#fff" stroke="#000" stroke-width="1.4"/><line x1="-3.6" y1="2.3" x2="3.6" y2="2.3" stroke="#000" stroke-width="0.8"/></g>
<g transform="translate(738.7,88.4) rotate(16.4)"><rect x="-3.6" y="0.5" width="7.2" height="4" fill="#fff" stroke="#000" stroke-width="1.4"/><rect x="-2.2" y="4.5" width="4.4" height="23.5" fill="#fff" stroke="#000" stroke-width="1.4"/><line x1="-3.6" y1="2.3" x2="3.6" y2="2.3" stroke="#000" stroke-width="0.8"/></g>
<polygon points="685.3,121.6 704.5,127.0 702.6,137.3 679.5,131.2 680.5,126.0" stroke="#000" stroke-width="1.8" fill="#fff" stroke-linejoin="round" />
<line x1="686.0" y1="122.5" x2="684.5" y2="132.0" stroke="#000" stroke-width="1.2" />
<line x1="681.0" y1="127.0" x2="692.0" y2="129.8" stroke="#000" stroke-width="1.0" />
<line x1="687.0" y1="124.5" x2="696.0" y2="127.0" stroke="#000" stroke-width="1.6" />
<path d="M692.5,134.5 Q693,128.5 697,129.5 Q700.5,131 699.5,136.5" stroke="#000" stroke-width="1.6" fill="none" />
<polygon points="709.7,130.6 729.6,135.4 730.2,146.3 706.8,140.2" stroke="#000" stroke-width="1.8" fill="#fff" stroke-linejoin="round" />
<circle cx="715.8" cy="139" r="2.8" fill="none" stroke="#000" stroke-width="1.5"/>
<line x1="709.8" y1="136.0" x2="720.0" y2="138.5" stroke="#000" stroke-width="1.2" />
<line x1="712.5" y1="131.5" x2="711.5" y2="141.0" stroke="#000" stroke-width="1.2" />
<path d="M719.5,142.5 Q720,137 724,137.5 Q727.5,139 727.5,145" stroke="#000" stroke-width="1.6" fill="none" />
<circle cx="727.5" cy="142" r="2" fill="none" stroke="#000" stroke-width="1.3"/>
<polygon points="639.5,268.4 658.4,273.7 656.3,283.5 637.4,277.9" stroke="#000" stroke-width="1.9" fill="#fff" stroke-linejoin="round" />
<line x1="644.2" y1="269.7" x2="642.1" y2="279.3" stroke="#000" stroke-width="1.1" />
<path d="M645.0,274.3 Q646.0,280.5 650.5,281.0 Q653.0,279.5 653.0,276.5" stroke="#000" stroke-width="1.7" fill="none" />
<polygon points="664.2,276.3 682.6,281.6 681.0,291.0 661.6,286.3" stroke="#000" stroke-width="1.9" fill="#fff" stroke-linejoin="round" />
<line x1="668.8" y1="277.6" x2="666.5" y2="287.5" stroke="#000" stroke-width="1.1" />
<path d="M669.5,282.3 Q670.5,288.5 675.0,289.0 Q677.5,287.5 677.5,284.5" stroke="#000" stroke-width="1.7" fill="none" />
<path d="M617.8,293.5 L617,303.4 L656.2,316.8" stroke="#000" stroke-width="3.0" fill="none" stroke-linejoin="miter" stroke-linecap="butt"/>
<rect x="615.5" y="292" width="4.5" height="3" fill="#000"/>
<g transform="translate(662,314.3) rotate(15)"><rect x="-4.4" y="-5" width="8.8" height="10" rx="1" fill="#fff" stroke="#000" stroke-width="1.5"/><rect x="-2.8" y="-3.4" width="5.6" height="6.6" fill="none" stroke="#000" stroke-width="0.8"/><circle cx="-0.6" cy="-0.2" r="2.1" fill="none" stroke="#000" stroke-width="1.2"/></g>
<polyline points="654.3,319.5 652.5,327.8 674.1,334.3 672.7,340.2" stroke="#222" stroke-width="0.9" fill="none" stroke-dasharray="16 1.3 1 1.3"/>
<polyline points="617.5,322.8 622.1,308.0" stroke="#222" stroke-width="0.9" fill="none" stroke-dasharray="16 1.3 1 1.3"/>
<g transform="translate(642.2,302.2) rotate(15)"><ellipse cx="0" cy="0" rx="2.6" ry="1.9" fill="#000"/><rect x="-1" y="0" width="2" height="3.8" fill="#000"/></g>
<g transform="translate(654.6,306.6) rotate(15)"><ellipse cx="0" cy="0" rx="2.6" ry="1.9" fill="#000"/><rect x="-1" y="0" width="2" height="3.8" fill="#000"/></g>
<path d="M613.5,324 L618.5,323.5 L620.5,327.5 L618.6,330.6 L613.2,330.6 Z" fill="#000"/>
<circle cx="614.2" cy="333.6" r="3.4" fill="none" stroke="#000" stroke-width="1.9"/>
<path d="M666,340.5 Q670,338.3 674,340.5 Q675.5,344 673.5,346.5 L671.5,347 L670.8,352 L668.5,352 L668.3,347 Q665,345 666,340.5 Z" fill="#000"/>
<g transform="translate(616.5,210.5) rotate(-20)"><path d="M-5,-5.5 L4,-5.5 L4,5.5 L-5,5.5 Z" fill="#fff" stroke="#000" stroke-width="1.6"/><ellipse cx="-5" cy="0" rx="2.2" ry="5.5" fill="#000"/><ellipse cx="4" cy="0" rx="2.6" ry="5.5" fill="#fff" stroke="#000" stroke-width="1.6"/></g>
<g transform="translate(708,255.5) rotate(-58)"><path d="M-5,-5.5 L4,-5.5 L4,5.5 L-5,5.5 Z" fill="#fff" stroke="#000" stroke-width="1.6"/><ellipse cx="-5" cy="0" rx="2.2" ry="5.5" fill="#000"/><ellipse cx="4" cy="0" rx="2.6" ry="5.5" fill="#fff" stroke="#000" stroke-width="1.6"/></g>
<polygon points="571.7,407.8 590.4,412.9 585.9,432.8 566.0,427.7" stroke="#000" stroke-width="1.8" fill="#fff" stroke-linejoin="round" />
<line x1="569.0" y1="417.8" x2="588.2" y2="422.8" stroke="#000" stroke-width="1.6" />
<line x1="578.0" y1="410.0" x2="574.0" y2="430.0" stroke="#000" stroke-width="1.0" />
<line x1="581.5" y1="411.0" x2="577.5" y2="431.0" stroke="#000" stroke-width="1.0" />
<polygon points="571.7,407.8 574.6,408.6 568.8,428.4 566.0,427.7" stroke="#000" stroke-width="1.0" fill="#000" stroke-linejoin="round" />
<polygon points="642.2,429.2 665.9,436.6 659.4,457.6 636.0,450.2" stroke="#000" stroke-width="1.2" fill="#000" stroke-linejoin="round" />
<line x1="644.3" y1="433.2" x2="663.0" y2="438.8" stroke="#fff" stroke-width="0.8" />
<line x1="643.4" y1="436.2" x2="662.0" y2="441.8" stroke="#fff" stroke-width="0.8" />
<line x1="642.5" y1="439.2" x2="661.1" y2="444.8" stroke="#fff" stroke-width="0.8" />
<line x1="641.7" y1="442.2" x2="660.2" y2="447.8" stroke="#fff" stroke-width="0.8" />
<line x1="640.8" y1="445.2" x2="659.3" y2="450.8" stroke="#fff" stroke-width="0.8" />
<line x1="639.9" y1="448.2" x2="658.3" y2="453.8" stroke="#fff" stroke-width="0.8" />
<line x1="641.5" y1="433.0" x2="638.5" y2="446.0" stroke="#fff" stroke-width="1.0" />
<polyline points="587.4,423.7 642.0,438.4" stroke="#222" stroke-width="0.9" fill="none" stroke-dasharray="16 1.3 1 1.3"/>
<polygon points="507.5,397.5 543.5,409.0 539.0,424.4 503.0,412.9" stroke="#000" stroke-width="1.2" fill="#fff" stroke-linejoin="round" />
<line x1="507.5" y1="397.5" x2="543.5" y2="409.0" stroke="#000" stroke-width="3.0" />
<line x1="503.0" y1="412.9" x2="539.0" y2="424.4" stroke="#000" stroke-width="3.0" />
<line x1="527.0" y1="403.5" x2="522.8" y2="419.0" stroke="#000" stroke-width="1.0" />
<line x1="531.5" y1="405.0" x2="527.3" y2="420.5" stroke="#000" stroke-width="1.0" />
<circle cx="536.6" cy="415.8" r="1.8" fill="#000"/>
<polyline points="496.0,408.0 540.0,421.0" stroke="#222" stroke-width="0.9" fill="none" stroke-dasharray="16 1.3 1 1.3"/>
<rect x="481.20000000000005" y="384.7" width="4.2" height="5.2" rx="1.2" fill="#fff" stroke="#000" stroke-width="1.7"/>
<circle cx="477.6" cy="387.3" r="4.9" fill="#000"/>
<circle cx="476.3" cy="386.90000000000003" r="1.6" fill="#fff"/>
<path d="M478.6,383.5 L478.6,391.1" stroke="#fff" stroke-width="0.6"/>
<rect x="477.8" y="395.59999999999997" width="4.2" height="5.2" rx="1.2" fill="#fff" stroke="#000" stroke-width="1.7"/>
<circle cx="474.2" cy="398.2" r="4.9" fill="#000"/>
<circle cx="472.9" cy="397.8" r="1.6" fill="#fff"/>
<path d="M475.2,394.4 L475.2,402.0" stroke="#fff" stroke-width="0.6"/>
<polyline points="484.4,389.0 494.7,392.3 492.1,401.3" stroke="#222" stroke-width="0.9" fill="none" stroke-dasharray="16 1.3 1 1.3"/>
<polyline points="481.5,400.0 505.0,405.8" stroke="#222" stroke-width="0.9" fill="none" stroke-dasharray="16 1.3 1 1.3"/>
<path d="M797.0,124.0 C797.2,127.4 799.0,138.7 798.5,144.5 C798.0,150.3 794.3,154.6 794.3,158.9 C794.3,163.2 796.3,168.1 798.7,170.5 C801.1,172.9 805.9,174.4 808.8,173.4 C811.7,172.4 815.5,167.6 816.0,164.7 C816.5,161.8 814.0,159.1 811.7,156.0 C809.4,152.9 804.0,150.1 802.3,145.9 C800.6,141.7 801.6,133.5 801.5,131.0" stroke="#000" stroke-width="3.6" fill="none" />
<path d="M797.0,124.0 C797.2,127.4 799.0,138.7 798.5,144.5 C798.0,150.3 794.3,154.6 794.3,158.9 C794.3,163.2 796.3,168.1 798.7,170.5 C801.1,172.9 805.9,174.4 808.8,173.4 C811.7,172.4 815.5,167.6 816.0,164.7 C816.5,161.8 814.0,159.1 811.7,156.0 C809.4,152.9 804.0,150.1 802.3,145.9 C800.6,141.7 801.6,133.5 801.5,131.0" stroke="#fff" stroke-width="1.0" fill="none" />
<path d="M843.0,94.0 C843.2,96.6 845.9,105.2 844.3,109.7 C842.7,114.2 835.7,117.7 833.4,121.3 C831.1,124.9 829.8,128.5 830.5,131.4 C831.2,134.3 834.9,137.2 837.8,138.7 C840.7,140.1 845.2,141.1 847.9,140.1 C850.5,139.1 853.5,136.3 853.7,132.9 C853.9,129.5 850.5,124.4 849.3,119.9 C848.1,115.4 847.0,110.0 846.5,106.0 C846.0,102.0 846.5,97.7 846.5,96.0" stroke="#000" stroke-width="3.6" fill="none" />
<path d="M843.0,94.0 C843.2,96.6 845.9,105.2 844.3,109.7 C842.7,114.2 835.7,117.7 833.4,121.3 C831.1,124.9 829.8,128.5 830.5,131.4 C831.2,134.3 834.9,137.2 837.8,138.7 C840.7,140.1 845.2,141.1 847.9,140.1 C850.5,139.1 853.5,136.3 853.7,132.9 C853.9,129.5 850.5,124.4 849.3,119.9 C848.1,115.4 847.0,110.0 846.5,106.0 C846.0,102.0 846.5,97.7 846.5,96.0" stroke="#fff" stroke-width="1.0" fill="none" />
<g transform="translate(821.3,105.8) rotate(-47)"><rect x="-28" y="-10.6" width="56" height="21.2" rx="10" fill="#000"/><ellipse cx="-21" cy="0" rx="8.2" ry="9.8" fill="#000" stroke="#fff" stroke-width="1.1"/><path d="M-11.0,-4 Q-9.2,3 -10.2,9.6" fill="none" stroke="#ddd" stroke-width="0.75"/><path d="M-7.8,-4 Q-6.0,3 -7.0,9.6" fill="none" stroke="#ddd" stroke-width="0.75"/><path d="M-4.6,-4 Q-2.8,3 -3.8,9.6" fill="none" stroke="#ddd" stroke-width="0.75"/><path d="M-1.4,-4 Q0.4,3 -0.6,9.6" fill="none" stroke="#ddd" stroke-width="0.75"/><path d="M1.8,-4 Q3.6,3 2.6,9.6" fill="none" stroke="#ddd" stroke-width="0.75"/><path d="M5.0,-4 Q6.8,3 5.8,9.6" fill="none" stroke="#ddd" stroke-width="0.75"/><path d="M8.2,-4 Q10.0,3 9.0,9.6" fill="none" stroke="#ddd" stroke-width="0.75"/><path d="M11.4,-4 Q13.2,3 12.2,9.6" fill="none" stroke="#ddd" stroke-width="0.75"/><path d="M14.6,-4 Q16.4,3 15.4,9.6" fill="none" stroke="#ddd" stroke-width="0.75"/><path d="M17.8,-4 Q19.6,3 18.6,9.6" fill="none" stroke="#ddd" stroke-width="0.75"/><path d="M21.0,-4 Q22.8,3 21.8,9.6" fill="none" stroke="#ddd" stroke-width="0.75"/></g>
<g transform="translate(843.5,156) rotate(-10)"><path d="M-5,-20 Q0,-23 5,-20 L6,-13 L-6,-13 Z" fill="#000"/><path d="M-2.5,-19 L-2.5,-14 M2,-19 L2,-14" stroke="#fff" stroke-width="0.9"/><path d="M-7,-13 L7,-13 L9,-7 L-9,-7 Z" fill="#fff" stroke="#000" stroke-width="1.6"/><path d="M-11,-7 L11,-7 L11,-3 L-11,-3 Z" fill="#000"/><path d="M-9,-3 L9,-3 L8,6 Q7,15 3,19 L-3,19 Q-8,14 -8,6 Z" fill="#fff" stroke="#000" stroke-width="1.8" stroke-linejoin="round"/><path d="M-9,1 L9,1" stroke="#000" stroke-width="1.2"/><path d="M-8,6 L8,6 M-7,11 L7,11" stroke="#000" stroke-width="1.4"/><path d="M-3,6 L-3,19 M2,6 L2,19" stroke="#000" stroke-width="1.4"/><path d="M3,7 L10,6 L10,14 L4,16 Z" fill="#000"/></g>
<path d="M864.8,206 Q866,202.5 870.7,202.8 L887.5,201.8 L892.5,206 Q904,210 908,226 Q909,233 906.3,239.4 L903,252.5 L892.4,258.1 L866.8,257.1 Q863.3,256 863.8,251.2 L862.8,214.7 Q862.8,209 864.8,206 Z" fill="#fff" stroke="#000" stroke-width="1.9" stroke-linejoin="round"/>
<path d="M892.4,199.4 L903.8,199.8 L904,207.5 L893,207 Z" fill="#fff" stroke="#000" stroke-width="1.6"/>
<line x1="894.0" y1="203.0" x2="902.0" y2="203.3" stroke="#000" stroke-width="1.2" />
<path d="M868.8,209 L868.8,255 M875.7,208 L875.5,256" stroke="#000" stroke-width="1.3" fill="none" />
<path d="M870.5,212 L871,250 M873.5,211 L873.8,250" stroke="#000" stroke-width="1.0" fill="none" />
<path d="M866,208 Q871,205 877.5,207.5 L877.5,211 Q871,209 866.5,212 Z" fill="#000"/>
<path d="M863.5,228 L868.5,228 L868.5,240 L863.8,240 Z" fill="#000"/>
<path d="M866,207.5 Q870,205.5 876,206.5" stroke="#000" stroke-width="1.5" fill="none" />
<path d="M876.7,217.6 L892.4,217 L893.5,231.5 L877,232 Z" fill="#000"/>
<circle cx="885" cy="225" r="2.2" fill="#fff"/>
<rect x="879" y="219.5" width="5" height="5" fill="#fff"/>
<path d="M895.5,221 Q901,217.5 906.5,222 L906.5,237 Q900,240 896,237.5 Z" fill="#000"/>
<path d="M893,242 L906,238 L903,252.5 L893,257 Z" fill="#000"/>
<path d="M895,246 L903,243.5" stroke="#fff" stroke-width="1"/>
<path d="M893,209 Q896,214 896.5,224 L896,252" stroke="#000" stroke-width="1.2" fill="none" />
<path d="M877,234 L892,233 L893,240 L877,241 Z" stroke="#000" stroke-width="1.1" fill="none" />
<path d="M893,245.5 L906,240.5" stroke="#000" stroke-width="1.1" fill="none" />
<path d="M878,248 L893,248 L893,256" stroke="#000" stroke-width="1.1" fill="none" />
<path d="M859.9,250 Q861,248.5 865.8,249.2 L865.8,255.2 Q861,256 859.9,254 Z" fill="#000"/>
<rect x="872" y="250.5" width="10" height="4" fill="#000"/>
<path d="M935.5,225.9 L992,231 L992,249.7 L935.5,245.2 Z" fill="#000"/>
<line x1="939.7" y1="226.7" x2="939.7" y2="245.9" stroke="#444" stroke-width="0.5" />
<line x1="943.9" y1="227.1" x2="943.9" y2="246.3" stroke="#444" stroke-width="0.5" />
<line x1="948.1" y1="227.4" x2="948.1" y2="246.6" stroke="#444" stroke-width="0.5" />
<line x1="952.3" y1="227.8" x2="952.3" y2="246.9" stroke="#444" stroke-width="0.5" />
<line x1="956.5" y1="228.2" x2="956.5" y2="247.2" stroke="#444" stroke-width="0.5" />
<line x1="960.7" y1="228.6" x2="960.7" y2="247.6" stroke="#444" stroke-width="0.5" />
<line x1="964.9" y1="229.0" x2="964.9" y2="247.9" stroke="#444" stroke-width="0.5" />
<line x1="969.1" y1="229.3" x2="969.1" y2="248.2" stroke="#444" stroke-width="0.5" />
<line x1="973.3" y1="229.7" x2="973.3" y2="248.6" stroke="#444" stroke-width="0.5" />
<line x1="977.5" y1="230.1" x2="977.5" y2="248.9" stroke="#444" stroke-width="0.5" />
<line x1="981.7" y1="230.5" x2="981.7" y2="249.2" stroke="#444" stroke-width="0.5" />
<line x1="985.9" y1="230.9" x2="985.9" y2="249.6" stroke="#444" stroke-width="0.5" />
<line x1="990.1" y1="231.2" x2="990.1" y2="249.9" stroke="#444" stroke-width="0.5" />
<ellipse cx="991.6" cy="240.3" rx="3.8" ry="9.6" fill="#fff" stroke="#000" stroke-width="1.6"/>
<ellipse cx="991.9" cy="240.6" rx="1.8" ry="4.6" fill="#fff" stroke="#000" stroke-width="1.3"/>
<path d="M929,223 Q933,222.5 937,226 L937.5,245 Q933,247.5 929,245.5 Z" fill="#fff" stroke="#000" stroke-width="1.4"/>
<ellipse cx="929.8" cy="234.2" rx="4.3" ry="11.4" fill="#fff" stroke="#000" stroke-width="1.7"/>
<ellipse cx="930.3" cy="234.3" rx="2.6" ry="9.2" fill="none" stroke="#000" stroke-width="0.9"/>
<path d="M1008.5,232.8 Q1015.5,232 1017.6,239 Q1018.5,247 1012.5,251.2 Q1008,252.5 1008,246 Z" fill="#000"/>
<ellipse cx="1008.6" cy="242.2" rx="3.2" ry="9" fill="#fff" stroke="#000" stroke-width="1.5"/>
<ellipse cx="1012.5" cy="241.8" rx="1.6" ry="4" fill="#fff" opacity="0.8"/>
<ellipse cx="1013.5" cy="242" rx="1" ry="3" fill="#fff"/>
<path d="M1033.4,241.5 L1044.7,242.2 L1044.7,247.3 L1033.4,246.6 Q1032.6,244 1033.4,241.5 Z" fill="#fff" stroke="#000" stroke-width="1.4"/>
<ellipse cx="1046.3" cy="245" rx="2.3" ry="4.2" fill="#fff" stroke="#000" stroke-width="1.6"/>
<polygon points="54.1,715.0 73.4,688.6 76.4,691.0 76.7,693.6 92.7,684.7 96.8,687.4 96.8,702.5 77.0,713.2 76.7,721.5 57.7,716.7" stroke="#000" stroke-width="1.3" fill="#fff" stroke-linejoin="round" />
<polyline points="57.7,716.7 58.9,715.5 76.1,692.4 76.4,691.0" stroke="#000" stroke-width="1.2" fill="none" />
<polyline points="76.7,696.3 95.9,687.7 96.8,687.4" stroke="#000" stroke-width="1.2" fill="none" />
<line x1="76.7" y1="693.6" x2="76.7" y2="696.3" stroke="#000" stroke-width="1.2" />
<line x1="58.9" y1="715.5" x2="54.1" y2="715.0" stroke="#000" stroke-width="1.0" />
<text transform="translate(70.9,716.0) matrix(1,-0.54,0,1,0,0)" font-family="Liberation Serif" font-weight="bold" font-size="19" stroke="#000" stroke-width="0.45" textLength="19.5" lengthAdjust="spacingAndGlyphs">FWD</text>
<path d="M106.4,19.5 L112.5,19.2 M109.9,15.4 L107.3,25.8 L112.5,25.0 M110.5,21.1 L110.3,38.9 M106.4,32.8 L112.7,30.6 M114.3,20.5 L121.6,20.3 M113.5,25.2 L122.0,24.8 M117.6,15.4 L114.9,29.4 L120.2,29.2 L117.6,34.1 M114.9,33.5 L119.4,38.3 " stroke="#000" stroke-width="2.1" fill="none" stroke-linecap="round" stroke-linejoin="round"/>
<path d="M132.4,15.6 L130.3,19.1 M126.7,19.5 L126.7,38.7 M126.7,19.9 L138.8,19.7 L138.8,37.9 L135.8,36.9 M129.7,24.6 L129.7,33.5 M129.7,24.6 L135.0,24.6 L135.0,32.6 M129.7,29.8 L135.0,29.8 " stroke="#000" stroke-width="2.1" fill="none" stroke-linecap="round" stroke-linejoin="round"/>
<path d="M144.2,18.3 L156.0,15.7 M150.3,18.3 L145.9,23.6 L153.9,21.5 M154.6,21.1 L145.5,28.9 L155.6,27.0 M154.3,25.7 L156.7,29.7 M150.5,28.9 L150.3,38.4 M147.8,31.8 L143.0,37.3 M153.5,32.3 L157.1,37.3 " stroke="#000" stroke-width="2.1" fill="none" stroke-linecap="round" stroke-linejoin="round"/>
<path d="M164.9,15.4 L161.5,23.4 L165.3,22.3 M167.0,22.1 L161.9,30.1 L167.4,28.2 M161.5,35.4 L167.0,32.7 M170.4,15.4 L171.4,17.7 M165.9,19.6 L175.9,19.3 M170.6,20.4 L167.6,27.8 L175.0,26.3 M173.1,24.0 L175.2,27.2 M169.7,28.2 L169.3,33.1 L165.3,38.6 M173.5,28.2 L173.8,37.1 L176.3,37.3 L176.4,33.3 " stroke="#000" stroke-width="2.1" fill="none" stroke-linecap="round" stroke-linejoin="round"/>
<line x1="182.6" y1="17.3" x2="178.6" y2="36.5" stroke="#000" stroke-width="2.4" />
<text transform="translate(188.9,36.5) scale(0.6736,1)" font-size="27.5" font-weight="bold">STEERING SYSTEM</text>
</svg></body></html>
